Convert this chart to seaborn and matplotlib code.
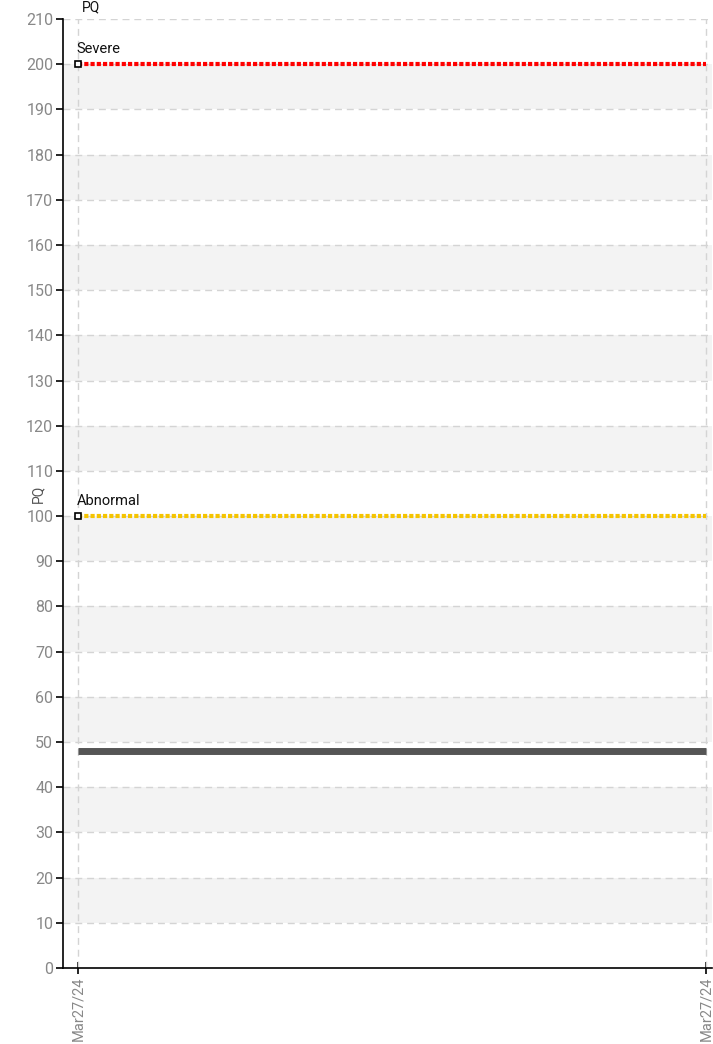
import numpy as np
import pandas as pd
import matplotlib
matplotlib.use("Agg")
import matplotlib.pyplot as plt
import seaborn as sns

# data
dates = ["Mar27/24", "Mar27/24"]
pq_values = [48, 48]
thresholds = [200, 100]
threshold_names = ["Severe", "Abnormal"]
threshold_colors = ["#ff0000", "#f5c400"]

sns.set_style("white")
plt.rcParams['font.family'] = ['Roboto', 'DejaVu Sans']

df = pd.DataFrame({"pos": np.arange(len(dates)), "PQ": pq_values})

fig = plt.figure(figsize=(7.13, 10.44), dpi=100)
ax = fig.add_axes([63 / 713, 1 - 968 / 1044, 649 / 713, (968 - 19) / 1044])

# alternating bands
for lo in range(10, 200, 20):
    ax.axhspan(lo, lo + 10, color="#f3f3f3", zorder=0, lw=0)

# grid
for y in range(10, 211, 10):
    ax.axhline(y, color="#d4d4d4", ls=(0, (5, 3.5)), lw=1, zorder=1)
for x in df["pos"]:
    ax.axvline(x, color="#d4d4d4", ls=(0, (5, 3.5)), lw=1, zorder=1)

# threshold lines
for val, name, col in zip(thresholds, threshold_names, threshold_colors):
    ax.plot([df["pos"].iloc[0], df["pos"].iloc[-1]], [val, val], color=col,
            lw=3, ls=(0, (1, 0.5)), zorder=3, solid_capstyle="butt")
    ax.plot(df["pos"].iloc[0], val, marker="s", ms=5, mfc="white", mec="black",
            mew=1.2, zorder=4)
    ax.text(df["pos"].iloc[0] - 0.002, val + 1.8, name, fontsize=10.5,
            color="#111111", ha="left", va="bottom")

sns.lineplot(data=df, x="pos", y="PQ", color="#555555", lw=5, ax=ax, zorder=5,
             solid_capstyle="butt")

ax.set_xlim(-0.0239, 1.0096)
ax.set_ylim(0, 210)
ax.set_yticks(range(0, 211, 10))
ax.set_xticks(df["pos"])
ax.set_xticklabels(dates, rotation=90)
ax.set_xlabel("")
ax.set_ylabel("PQ", fontsize=10, color="#555555")
ax.yaxis.set_label_coords(-0.027, 0.5)

for s in ["top", "right"]:
    ax.spines[s].set_visible(False)
for s in ["left", "bottom"]:
    ax.spines[s].set_color("black")
    ax.spines[s].set_linewidth(1.2)

ax.tick_params(axis="y", direction="out", length=5, width=1.2, color="black",
               labelsize=11.5, labelcolor="#888888", pad=2, left=True)
ax.tick_params(axis="x", direction="inout", length=8, width=1.2, color="black",
               labelsize=10.5, labelcolor="#888888", pad=2, bottom=True)

fig.text(82 / 713, 1.0, "PQ", fontsize=10, color="#111111", ha="left", va="top")

plt.savefig("out.png", dpi=100)
